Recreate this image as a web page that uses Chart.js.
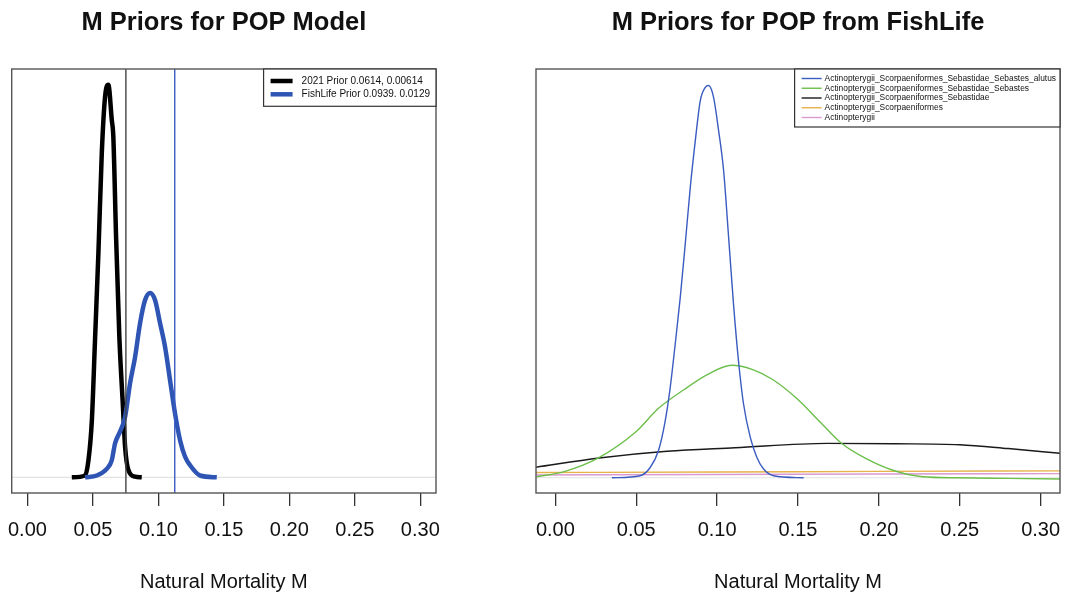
<!DOCTYPE html>
<html>
<head>
<meta charset="utf-8">
<script src="https://cdn.jsdelivr.net/npm/chart.js@4.4.1/dist/chart.umd.min.js"></script>
<style>
  html, body { margin: 0; padding: 0; background: #fff; }
  .panel { position: absolute; top: 0; height: 596px; }
  #left { left: 0; width: 460px; }
  #right { left: 505px; width: 560px; }
</style>
</head>
<body>
<div class="panel" id="left"><canvas id="chartLeft"></canvas></div>
<div class="panel" id="right"><canvas id="chartRight"></canvas></div>
<script>
const FONT = "'Liberation Sans', Arial, sans-serif";

// shared x axis
const xMin = -0.012, xMax = 0.312;
const xTicks = [0, 0.05, 0.10, 0.15, 0.20, 0.25, 0.30];

// left panel: model prior vs FishLife prior
const prior2021X = [0.0339, 0.0440, 0.0466, 0.0492, 0.0517, 0.0542, 0.0568, 0.0593, 0.0618, 0.0644, 0.0656, 0.0677, 0.0702, 0.0728, 0.0746, 0.0771, 0.0822, 0.0873];
const prior2021Y = [0, 0.3, 2.8, 9.4, 23.2, 37.1, 53.7, 63.0, 65.0, 59.2, 56.4, 39.8, 23.2, 12.3, 5.0, 1.2, 0.1, 0];
const fishLifeX = [0.0440, 0.0530, 0.0606, 0.0644, 0.0669, 0.0708, 0.0746, 0.0784, 0.0822, 0.0860, 0.0898, 0.0937, 0.0975, 0.1013, 0.1051, 0.1089, 0.1127, 0.1166, 0.1204, 0.1242, 0.1318, 0.1446];
const fishLifeY = [0, 0.3, 1.4, 2.8, 5.6, 7.6, 10.0, 15.6, 19.9, 25.5, 29.3, 30.5, 29.3, 25.5, 21.6, 16.1, 10.6, 6.1, 3.4, 2.0, 0.3, 0];
const refLinesX = [0.0752, 0.1125];
const leftLabels = ['2021 Prior 0.0614, 0.00614', 'FishLife Prior 0.0939. 0.0129'];
const leftYRange = [-2.6, 67.6];

// right panel: FishLife taxonomic levels
const taxa = [
  'Actinopterygii_Scorpaeniformes_Sebastidae_Sebastes_alutus',
  'Actinopterygii_Scorpaeniformes_Sebastidae_Sebastes',
  'Actinopterygii_Scorpaeniformes_Sebastidae',
  'Actinopterygii_Scorpaeniformes',
  'Actinopterygii'
];
const alutusX = [0.0349, 0.0524, 0.0586, 0.0637, 0.0679, 0.0710, 0.0741, 0.0772, 0.0803, 0.0834, 0.0865, 0.0896, 0.0927, 0.0947, 0.0978, 0.1009, 0.1040, 0.1071, 0.1101, 0.1132, 0.1163, 0.1205, 0.1246, 0.1287, 0.1349, 0.1535];
const alutusY = [0, 0.16, 0.81, 2.13, 4.49, 7.12, 10.56, 14.21, 18.44, 22.88, 26.56, 29.71, 30.76, 30.9, 29.97, 27.35, 24.2, 18.94, 13.72, 9.22, 5.83, 3.18, 1.6, 0.69, 0.16, 0];
const sebastesX = [-0.0114, 0.0054, 0.0266, 0.0498, 0.0636, 0.0794, 0.0942, 0.1090, 0.1216, 0.1343, 0.1491, 0.1638, 0.1765, 0.1913, 0.2082, 0.2272, 0.2483, 0.2800, 0.3123];
const sebastesY = [0.08, 0.48, 1.56, 3.62, 5.45, 6.93, 8.14, 8.86, 8.54, 7.74, 6.26, 4.38, 2.76, 1.56, 0.61, 0.08, 0, -0.05, -0.1];
const sebastidaeX = [-0.012, 0.027, 0.069, 0.111, 0.168, 0.210, 0.250, 0.280, 0.312];
const sebastidaeY = [0.83, 1.56, 2.09, 2.36, 2.71, 2.68, 2.6, 2.3, 1.93];
const scorpX = [-0.012, 0.10, 0.20, 0.312];
const scorpY = [0.41, 0.45, 0.50, 0.54];
const actinoX = [-0.012, 0.10, 0.20, 0.312];
const actinoY = [0.22, 0.26, 0.30, 0.33];
const rightYRange = [-1.2, 32.2];

const pts = (xs, ys) => xs.map((x, i) => ({ x: x, y: ys[i] }));

// box round the plot region
const plotBox = {
  id: 'plotBox',
  afterDatasetsDraw(chart) {
    const { ctx, chartArea: a } = chart;
    ctx.save();
    ctx.strokeStyle = '#555';
    ctx.lineWidth = 1.4;
    ctx.strokeRect(a.left, a.top, a.right - a.left, a.bottom - a.top);
    ctx.restore();
  }
};

// R style legend in the top right corner
const boxLegend = {
  id: 'boxLegend',
  afterDraw(chart, args, o) {
    const { ctx, chartArea: a } = chart;
    const items = chart.data.datasets.filter(d => d.inLegend);
    ctx.save();
    ctx.font = o.fontSize + 'px ' + FONT;
    let tw = 0;
    items.forEach(d => { tw = Math.max(tw, ctx.measureText(d.label).width); });
    const w = o.padL + o.lineLen + o.gap + tw + o.padR;
    const h = o.firstRow * 2 + o.rowH * (items.length - 1);
    const x0 = a.right - w, y0 = a.top;
    ctx.fillStyle = '#fff';
    ctx.fillRect(x0, y0, w, h);
    ctx.strokeStyle = '#333';
    ctx.lineWidth = 1.2;
    ctx.strokeRect(x0, y0, w, h);
    ctx.textBaseline = 'middle';
    items.forEach((d, i) => {
      const y = y0 + o.firstRow + i * o.rowH;
      ctx.strokeStyle = d.borderColor;
      ctx.lineWidth = d.borderWidth;
      ctx.beginPath();
      ctx.moveTo(x0 + o.padL, y);
      ctx.lineTo(x0 + o.padL + o.lineLen, y);
      ctx.stroke();
      ctx.fillStyle = '#111';
      ctx.fillText(d.label, x0 + o.padL + o.lineLen + o.gap, y);
    });
    ctx.restore();
  }
};

function lineSet(label, data, color, width, order, inLegend) {
  return {
    label: label, data: data, borderColor: color, borderWidth: width,
    pointRadius: 0, fill: false, order: order, inLegend: inLegend,
    cubicInterpolationMode: 'monotone'
  };
}

function makeOptions(title, pad, yRange, legendOpts) {
  return {
    responsive: true,
    maintainAspectRatio: false,
    animation: false,
    layout: { padding: pad },
    plugins: {
      legend: { display: false },
      tooltip: { enabled: false },
      title: {
        display: true, text: title, color: '#111',
        font: { family: FONT, size: 25.5, weight: 'bold' },
        padding: { top: 7.5, bottom: 30.9 }
      },
      boxLegend: legendOpts
    },
    scales: {
      x: {
        type: 'linear', min: xMin, max: xMax,
        afterBuildTicks: s => { s.ticks = xTicks.map(v => ({ value: v })); },
        // the plot region is placed by layout padding only
        afterFit: s => { s.paddingLeft = 0; s.paddingRight = 0; },
        ticks: {
          autoSkip: false, maxRotation: 0, padding: 12, color: '#111',
          font: { family: FONT, size: 20 },
          callback: v => v.toFixed(2)
        },
        grid: { drawOnChartArea: false, drawTicks: true, tickLength: 13, color: '#333', lineWidth: 1.3 },
        border: { display: false },
        title: {
          display: true, text: 'Natural Mortality M', color: '#111',
          font: { family: FONT, size: 20 }, padding: { top: 16.5, bottom: 1.5 }
        }
      },
      y: { type: 'linear', display: false, min: yRange[0], max: yRange[1] }
    }
  };
}

const yZeroLine = () => lineSet('zero', pts([xMin, xMax], [0, 0]), '#e2e2e2', 1.2, 9, false);
const vLine = (x, yr, color) => lineSet('ref', pts([x, x], yr), color, 1.4, 0, false);

new Chart(document.getElementById('chartLeft'), {
  type: 'line',
  data: {
    datasets: [
      lineSet(leftLabels[0], pts(prior2021X, prior2021Y), '#000', 4.5, 3, true),
      lineSet(leftLabels[1], pts(fishLifeX, fishLifeY), '#2f55b4', 4.5, 2, true),
      vLine(refLinesX[0], leftYRange, '#444'),
      vLine(refLinesX[1], leftYRange, '#3a5cc2'),
      yZeroLine()
    ]
  },
  options: makeOptions('M Priors for POP Model', { left: 11.7, right: 24, top: 0, bottom: 0 }, leftYRange,
    { fontSize: 10, padL: 7, lineLen: 22, gap: 9, padR: 6, firstRow: 12, rowH: 13.3 }),
  plugins: [plotBox, boxLegend]
});

new Chart(document.getElementById('chartRight'), {
  type: 'line',
  data: {
    datasets: [
      lineSet(taxa[0], pts(alutusX, alutusY), '#3a5bc0', 1.4, 1, true),
      lineSet(taxa[1], pts(sebastesX, sebastesY), '#6cbf4a', 1.4, 2, true),
      lineSet(taxa[2], pts(sebastidaeX, sebastidaeY), '#1a1a1a', 1.4, 3, true),
      lineSet(taxa[3], pts(scorpX, scorpY), '#e6b24a', 1.4, 4, true),
      lineSet(taxa[4], pts(actinoX, actinoY), '#d99ad0', 1.4, 5, true),
      yZeroLine()
    ]
  },
  options: makeOptions('M Priors for POP from FishLife', { left: 31, right: 5, top: 0, bottom: 0 }, rightYRange,
    { fontSize: 8.4, padL: 7, lineLen: 20, gap: 3, padR: 4, firstRow: 9.5, rowH: 9.75 }),
  plugins: [plotBox, boxLegend]
});
</script>
</body>
</html>
